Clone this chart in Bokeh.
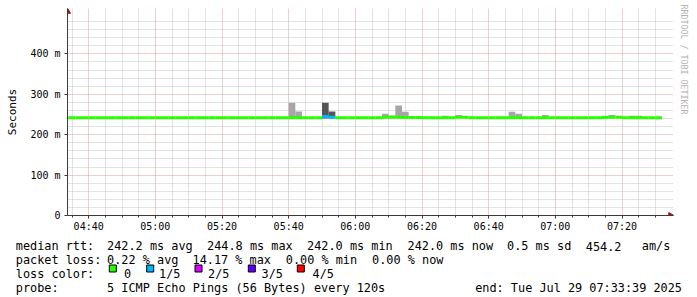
import math
import pandas as pd
from bokeh.plotting import figure
from bokeh.layouts import column
from bokeh.models import (Range1d, FixedTicker, DatetimeTickFormatter, Title,
                          ColumnDataSource)
from bokeh.core.properties import value
from bokeh.embed import file_html
from bokeh.resources import INLINE

# ---------------- data ----------------
graph_start = "2025-07-29 04:33:39"
graph_end = "2025-07-29 07:33:39"
first_step = "2025-07-29 04:32:00"
step_seconds = 120

# median rtt per 120 s step (ms)
median_ms = [
    242.2, 242.2, 242.2, 242.2, 242.2, 242.2, 242.2, 242.2, 242.2, 242.2,
    242.2, 242.2, 242.2, 242.2, 242.2, 242.2, 242.2, 242.2, 242.2, 242.2,
    242.2, 242.2, 242.2, 242.2, 242.2, 242.2, 242.2, 242.2, 242.2, 242.2,
    242.2, 242.2, 242.2, 242.2, 242.2, 242.2, 242.2, 242.2, 242.2, 244.8,
    243.5, 242.2, 242.2, 242.2, 242.2, 242.2, 242.2, 242.2, 243.2, 243.2,
    243.2, 242.6, 242.6, 242.6, 242.0, 242.0, 242.0, 242.0, 242.0, 243.2,
    243.2, 242.2, 242.2, 242.2, 242.2, 242.2, 242.2, 242.2, 242.2, 242.2,
    242.2, 242.2, 242.2, 242.2, 242.2, 242.2, 242.2, 242.2, 242.2, 242.2,
    242.2, 242.6, 243.2, 243.2, 242.0, 242.2, 242.2, 242.2, 242.2, 242.2,
]
# lost pings (of 5) per step
loss_count = [
    0, 0, 0, 0, 0, 0, 0, 0, 0, 0,
    0, 0, 0, 0, 0, 0, 0, 0, 0, 0,
    0, 0, 0, 0, 0, 0, 0, 0, 0, 0,
    0, 0, 0, 0, 0, 0, 0, 0, 0, 1,
    1, 0, 0, 0, 0, 0, 0, 0, 0, 0,
    0, 0, 0, 0, 0, 0, 0, 0, 0, 0,
    0, 0, 0, 0, 0, 0, 0, 0, 0, 0,
    0, 0, 0, 0, 0, 0, 0, 0, 0, 0,
    0, 0, 0, 0, 0, 0, 0, 0, 0, 0,
]
# smoke (ping spread) at the steps where it is visible
smoke_step = [34, 35, 39, 40, 48, 49, 50, 51, 57, 59, 67, 68, 72, 81, 82, 85, 86]
smoke_max_ms = [279.0, 257.5, 279.0, 257.5, 252.0, 247.5, 272.0, 257.0, 247.0,
                249.0, 257.0, 252.0, 249.0, 247.0, 249.0, 247.0, 247.0]
smoke_min_ms = [241.2, 241.2, 239.8, 239.8, 242.0, 242.0, 242.0, 241.8, 241.2,
                242.0, 241.2, 241.2, 241.2, 241.6, 242.0, 241.2, 241.2]

loss_labels = ["0", "1/5", "2/5", "3/5", "4/5"]
loss_colors = ["#26ff00", "#00b8ff", "#dd00ff", "#5e00ff", "#ff0000"]

y_major = [0, 100, 200, 300, 400]
y_labels = ["0", "100 m", "200 m", "300 m", "400 m"]
x_major = ["04:40", "05:00", "05:20", "05:40", "06:00", "06:20", "06:40", "07:00", "07:20"]

stats_rows = [
    ["median rtt:", "242.2 ms avg", "244.8 ms max", "242.0 ms min", "242.0 ms now",
     "0.5 ms sd", "454.2", "am/s"],
    ["packet loss:", "0.22 % avg", "14.17 % max", "0.00 % min", "0.00 % now"],
    ["loss color:"],
    ["probe:", "5 ICMP Echo Pings (56 Bytes) every 120s"],
]
end_text = "end: Tue Jul 29 07:33:39 2025"
credit_text = "RRDTOOL / TOBI OETIKER"

# ---------------- layout constants (canvas pixels) ----------------
W, H = 697, 297
TOP_H = 236
GRID_L, GRID_R, GRID_T, GRID_B = 67, 667, 13, 215   # rrd graph area
FRAME_R, FRAME_T = 673, 8                             # incl. axis arrows
stats_x = [
    [16, 107.3, 207.3, 307.3, 407.7, 507.3, 586, 642],
    [16, 107.3, 192.7, 286, 372.3],
    [16],
    [16, 107.3],
]
stats_baseline = [245.8, 259.7, 273.4, 287.3]
box_left = [108.3, 145.7, 194.0, 247.3, 296.3]
box_top = 264.5
box_text_x = [124.3, 159.3, 208.3, 261.7, 312.7]

MONO = "DejaVu Sans Mono"
EPOCH = pd.Timestamp("1970-01-01")


def ms(t):
    return (pd.Timestamp(t) - EPOCH) / pd.Timedelta(milliseconds=1)


t0 = ms(first_step)
step_ms = step_seconds * 1000.0
starts = [t0 + i * step_ms for i in range(len(median_ms))]
ends = [s + step_ms for s in starts]

day = graph_start[:11]
xs, xe = ms(graph_start), ms(graph_end)
Y0, Y1 = 0, 500
px_x = (xe - xs) / (GRID_R - GRID_L)
px_y = (Y1 - Y0) / (GRID_B - GRID_T)


def cx(X):
    return xs + (X - GRID_L) * px_x


def cy(Y):
    return Y0 + (GRID_B - Y) * px_y


p = figure(width=W, height=TOP_H, x_axis_type="datetime",
           x_range=Range1d(xs, cx(FRAME_R)), y_range=Range1d(Y0, cy(FRAME_T)),
           output_backend="svg", toolbar_location=None,
           min_border_left=GRID_L, min_border_right=W - FRAME_R,
           min_border_top=FRAME_T, min_border_bottom=TOP_H - GRID_B)
p.background_fill_color = "white"
p.border_fill_color = "white"
p.outline_line_color = None

# grid
major_grid_col = "#e09c9c"
minor_grid_col = "#c6c6c6"
x_major_ms = [ms(day + h) for h in x_major]
x_minor_ms = []
t = ms(day + "04:35")
while t <= xe:
    if t not in x_major_ms:
        x_minor_ms.append(t)
    t += 5 * 60000
y_minor = [v for v in range(20, 500, 20) if v % 100 != 0]

p.xaxis.ticker = FixedTicker(ticks=x_major_ms, minor_ticks=x_minor_ms)
p.yaxis.ticker = FixedTicker(ticks=y_major, minor_ticks=y_minor)
p.xaxis.formatter = DatetimeTickFormatter(
    minutes="%H:%M", hours="%H:%M", minsec="%H:%M", hourmin="%H:%M",
    seconds="%H:%M", days="%H:%M")
p.yaxis.major_label_overrides = {v: l for v, l in zip(y_major, y_labels)}

for g in (p.xgrid, p.ygrid):
    g.grid_line_color = major_grid_col
    g.grid_line_dash = "1 1"
    g.minor_grid_line_color = minor_grid_col
    g.minor_grid_line_dash = "1 1"

axis_col = "#3a3a3a"
for ax in (p.xaxis, p.yaxis):
    ax.axis_line_color = axis_col
    ax.major_tick_line_color = axis_col
    ax.minor_tick_line_color = axis_col
    ax.major_tick_in = 0
    ax.minor_tick_in = 0
    ax.major_label_text_font = MONO
    ax.major_label_text_font_size = "10px"
    ax.major_label_text_color = "black"
p.xaxis.major_tick_out = 3
p.xaxis.minor_tick_out = 2
p.xaxis.major_label_standoff = 2
p.yaxis.major_tick_out = 3
p.yaxis.minor_tick_out = 0
p.yaxis.major_label_standoff = 4
p.yaxis.axis_label = "Seconds"
p.yaxis.axis_label_text_font = MONO
p.yaxis.axis_label_text_font_size = "11px"
p.yaxis.axis_label_text_font_style = "normal"
p.yaxis.axis_label_text_color = "black"
p.yaxis.axis_label_standoff = 8

# smoke
smoke_src = ColumnDataSource(dict(
    left=[starts[k] for k in smoke_step],
    right=[ends[k] for k in smoke_step],
    top=smoke_max_ms,
    bottom=smoke_min_ms,
    color=["#555555" if loss_count[k] > 0 else "#a6a6a6" for k in smoke_step],
))
p.quad(left="left", right="right", top="top", bottom="bottom",
       fill_color="color", line_color=None, source=smoke_src)

# median line, coloured by loss
med_src = ColumnDataSource(dict(
    x0=starts, x1=ends, y=median_ms,
    color=[loss_colors[c] for c in loss_count],
))
p.segment(x0="x0", y0="y", x1="x1", y1="y", line_color="color",
          line_width=3, line_cap="butt", source=med_src)

# axis arrow heads
arrow_col = "#a31515"
p.scatter(x=[cx(FRAME_R - 3)], y=[Y0], marker="triangle", size=6,
          angle=-math.pi / 2, fill_color=arrow_col, line_color=arrow_col)
p.scatter(x=[xs], y=[cy(FRAME_T + 3)], marker="triangle", size=6,
          fill_color=arrow_col, line_color=arrow_col)

# credit on the right
title_kw = dict(text=credit_text, align="left", text_font=MONO,
                text_font_size="8.3px", text_color="#b4b4b4",
                text_font_style="normal", offset=-4)
p.add_layout(Title(**title_kw), "right")

# ---------------- legend / stats block ----------------
q = figure(width=W, height=H - TOP_H, x_range=Range1d(0, W), y_range=Range1d(H, TOP_H),
           output_backend="svg", toolbar_location=None,
           min_border=0, min_border_left=0, min_border_right=0,
           min_border_top=0, min_border_bottom=0,
           x_axis_location=None, y_axis_location=None)
q.grid.visible = False
q.outline_line_color = None
q.background_fill_color = "white"
q.border_fill_color = "white"

tx, ty, tt = [], [], []
for row, xrow, yb in zip(stats_rows, stats_x, stats_baseline):
    for s, X in zip(row, xrow):
        tx.append(X - 0.7)
        ty.append(yb)
        tt.append(s)
for s, X in zip(loss_labels, box_text_x):
    tx.append(X - 0.7)
    ty.append(stats_baseline[2])
    tt.append(s)
q.text(x=tx, y=ty, text=tt, text_font=value(MONO), text_font_size="11.85px",
       text_baseline="alphabetic", text_align="left", text_color="black")
q.text(x=[681.5], y=[stats_baseline[3]], text=[end_text], text_font=value(MONO),
       text_font_size="11.85px", text_baseline="alphabetic", text_align="right",
       text_color="black")
q.rect(x=[b + 4 for b in box_left], y=[box_top + 3.5] * len(box_left), width=7, height=7,
       fill_color=loss_colors, line_color="black", line_width=1)

if "frame_align" in q.properties():
    p.frame_align = False
    q.frame_align = False
    root = column(p, q, spacing=0)
else:
    root = [p, q]
open("out.html", "w").write(file_html(root, INLINE))
